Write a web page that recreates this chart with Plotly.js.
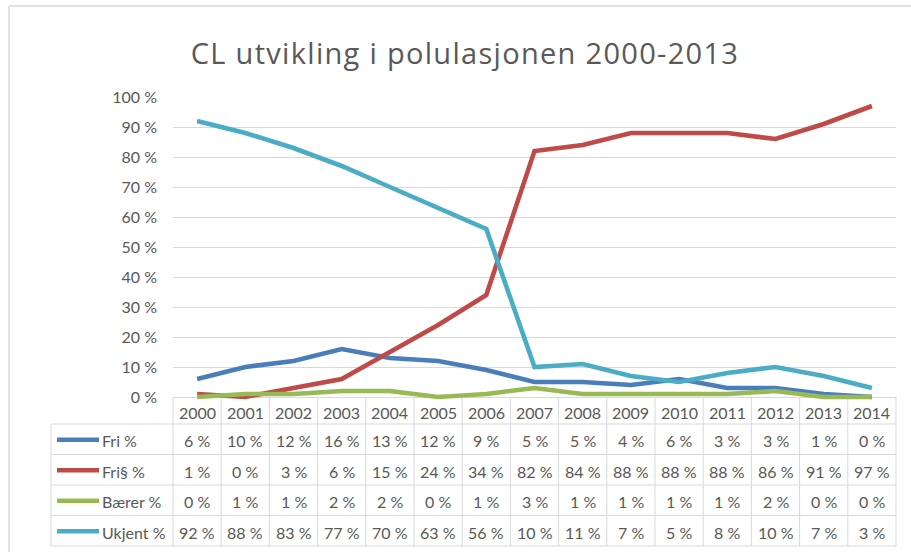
<!DOCTYPE html>
<html>
<head>
<meta charset="utf-8">
<script src="https://cdn.plot.ly/plotly-3.0.1.min.js"></script>
<style>
html,body{margin:0;padding:0;background:#fff;}
.gtitle{letter-spacing:1.3px;}
</style>
</head>
<body>
<div id="chart" style="width:911px;height:552px;"></div>
<script>
// ---- data ----
const years = ['2000','2001','2002','2003','2004','2005','2006','2007','2008','2009','2010','2011','2012','2013','2014'];
const seriesNames = ['Fri %', 'Fri§ %', 'Bærer %', 'Ukjent %'];
const fri        = [6, 10, 12, 16, 13, 12, 9, 5, 5, 4, 6, 3, 3, 1, 0];
const friParagraf= [1, 0, 3, 6, 15, 24, 34, 82, 84, 88, 88, 88, 86, 91, 97];
const baerer     = [0, 1, 1, 2, 2, 0, 1, 3, 1, 1, 1, 1, 2, 0, 0];
const ukjent     = [92, 88, 83, 77, 70, 63, 56, 10, 11, 7, 5, 8, 10, 7, 3];
const yTicks = [0, 10, 20, 30, 40, 50, 60, 70, 80, 90, 100];
const titleText = 'CL utvikling i polulasjonen 2000-2013';

// ---- styling ----
const seriesValues = [fri, friParagraf, baerer, ukjent];
const colors = ['#4A7EBB', '#BE4B48', '#98B954', '#4BACC6'];
const FONT = 'Lato, "Open Sans", sans-serif';
const TXT = '#595959';
const GRID = '#d9d9d9';

const W = 911, H = 552, L = 173, R = 15, T = 97, B = 152;
const pw = W - L - R, ph = H - T - B;
const plotBottom = H - B;
const px2x = px => (px - L) / pw;
const py2y = py => (plotBottom - py) / ph;

const xIdx = years.map((_, i) => i);

const traces = seriesValues.map((vals, i) => ({
  type: 'scatter', mode: 'lines', name: seriesNames[i],
  x: xIdx, y: vals,
  line: {color: colors[i], width: 4.6},
  hoverinfo: 'skip', showlegend: false
}));

// table geometry (pixels)
const tableLeft = 51, tableTop = 397, headerBottom = 424;
const rowBounds = [424, 454.5, 485, 515.5, 546];

const shapes = [];
const annotations = [];
const line = (x0, y0, x1, y1, color, width) => ({
  type: 'line', xref: 'paper', yref: 'paper',
  x0: px2x(x0), x1: px2x(x1), y0: py2y(y0), y1: py2y(y1),
  line: {color: color, width: width}, layer: 'below'
});

rowBounds.forEach(py => shapes.push(line(tableLeft, py, L + pw, py, GRID, 1)));
shapes.push(line(tableLeft, headerBottom, tableLeft, 546, GRID, 1));
for (let k = 0; k <= years.length; k++) {
  const px = L + k * pw / years.length;
  shapes.push(line(px, tableTop, px, 546, GRID, 1));
}
// chart frame
shapes.push(line(9, 6, 911, 6, '#e2e2e2', 2));
shapes.push(line(9, 6, 9, 552, '#e2e2e2', 2));

// header years
years.forEach((yr, i) => annotations.push({
  xref: 'x', yref: 'paper', x: i, y: py2y(412), text: yr, showarrow: false,
  xanchor: 'center', yanchor: 'middle', font: {family: FONT, size: 16, color: TXT}
}));

// rows
seriesValues.forEach((vals, r) => {
  const cy = (rowBounds[r] + rowBounds[r + 1]) / 2 + 1.5;
  shapes.push({
    type: 'line', xref: 'paper', yref: 'paper',
    x0: px2x(57), x1: px2x(99), y0: py2y(cy - 1), y1: py2y(cy - 1),
    line: {color: colors[r], width: 4.5}
  });
  annotations.push({
    xref: 'paper', yref: 'paper', x: px2x(100), y: py2y(cy), text: seriesNames[r],
    showarrow: false, xanchor: 'left', yanchor: 'middle',
    font: {family: FONT, size: 16, color: TXT}
  });
  vals.forEach((v, i) => annotations.push({
    xref: 'x', yref: 'paper', x: i, y: py2y(cy), text: v + ' %',
    showarrow: false, xanchor: 'center', yanchor: 'middle',
    font: {family: FONT, size: 16, color: TXT}
  }));
});

const layout = {
  width: W, height: H,
  margin: {l: L, r: R, t: T, b: B, pad: 0},
  paper_bgcolor: '#ffffff', plot_bgcolor: '#ffffff',
  title: {
    text: titleText, xref: 'container', yref: 'container',
    x: 465 / W, xanchor: 'center', y: 1 - 54 / H, yanchor: 'middle',
    font: {family: '"Open Sans", Lato, sans-serif', size: 29, color: TXT}
  },
  xaxis: {
    type: 'linear', range: [-0.5, years.length - 0.5],
    showgrid: false, zeroline: false, showline: false,
    showticklabels: false, ticks: '', fixedrange: true
  },
  yaxis: {
    range: [-1, 100], tickmode: 'array', tickvals: yTicks,
    ticktext: yTicks.map(v => v + ' %'),
    showgrid: true, gridcolor: GRID, gridwidth: 1,
    zeroline: false, showline: false, ticks: '', ticklabelstandoff: 15,
    tickfont: {family: FONT, size: 16, color: TXT}, fixedrange: true
  },
  shapes: shapes,
  annotations: annotations,
  showlegend: false
};

Plotly.newPlot('chart', traces, layout, {staticPlot: true, displayModeBar: false});
</script>
</body>
</html>
